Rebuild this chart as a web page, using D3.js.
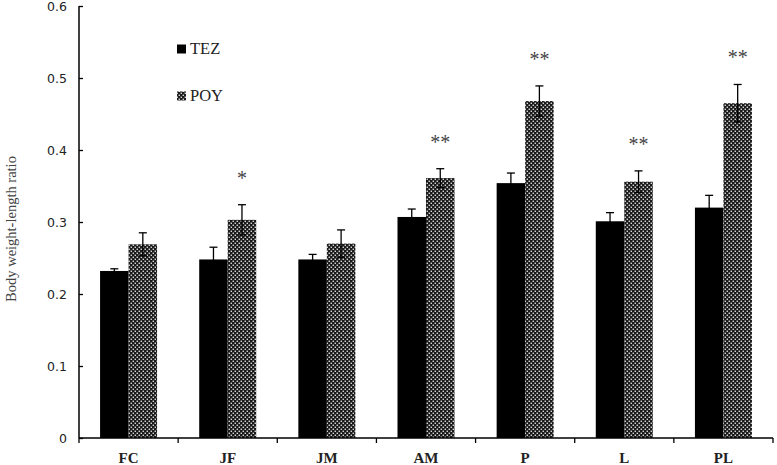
<!DOCTYPE html>
<html><head><meta charset="utf-8">
<script src="https://cdn.jsdelivr.net/npm/d3@7"></script>
<style>body{margin:0;background:#fff}</style>
</head><body>
<svg id="chart" width="777" height="465"></svg>
<script>
const categories = ["FC","JF","JM","AM","P","L","PL"];
const series = ["TEZ","POY"];
const tezValues = [0.232,0.248,0.248,0.307,0.354,0.301,0.320];
const tezErrors = [0.003,0.017,0.007,0.011,0.014,0.012,0.017];
const poyValues = [0.269,0.303,0.270,0.361,0.468,0.356,0.465];
const poyErrors = [0.016,0.021,0.019,0.013,0.021,0.015,0.026];
const significance = ["","*","","**","**","**","**"];
const yTicks = [0,0.1,0.2,0.3,0.4,0.5,0.6];

(function(){
const svg = d3.select("#chart");
const defs = svg.append("defs");
const pat = defs.append("pattern").attr("id","chk").attr("patternUnits","userSpaceOnUse")
  .attr("width",4).attr("height",4);
pat.append("rect").attr("width",4).attr("height",4).attr("fill","#1a1a1a");
pat.append("rect").attr("x",0.6).attr("y",0.6).attr("width",1.3).attr("height",1.3).attr("fill","#fff");
pat.append("rect").attr("x",2.6).attr("y",2.6).attr("width",1.3).attr("height",1.3).attr("fill","#fff");

const mL = 79, mR = 773, mT = 6, mB = 438;
const x = d3.scaleBand().domain(categories).range([mL,mR]).paddingInner(0).paddingOuter(0);
const y = d3.scaleLinear().domain([0,0.6]).range([mB,mT]);
const bw = 28.5;
const fills = {TEZ:"#000", POY:"url(#chk)"};

const data = categories.map((c,i)=>({c, s:[
  {name:"TEZ", v:tezValues[i], e:tezErrors[i]},
  {name:"POY", v:poyValues[i], e:poyErrors[i]}], sig:significance[i]}));

const g = svg.append("g");
data.forEach(d=>{
  const cx = x(d.c) + x.bandwidth()/2;
  d.s.forEach((s,j)=>{
    const x0 = cx - bw + j*bw;
    g.append("rect").attr("x",x0).attr("y",y(s.v)).attr("width",bw).attr("height",y(0)-y(s.v)).attr("fill",fills[s.name]);
    const ex = x0 + bw/2;
    g.append("line").attr("x1",ex).attr("x2",ex).attr("y1",y(s.v-s.e)).attr("y2",y(s.v+s.e)).attr("stroke","#000").attr("stroke-width",1.3);
    g.append("line").attr("x1",ex-4).attr("x2",ex+4).attr("y1",y(s.v+s.e)).attr("y2",y(s.v+s.e)).attr("stroke","#000").attr("stroke-width",1.3);
    g.append("line").attr("x1",ex-4).attr("x2",ex+4).attr("y1",y(s.v-s.e)).attr("y2",y(s.v-s.e)).attr("stroke","#000").attr("stroke-width",1.3);
    if(j===1 && d.sig){
      g.append("text").attr("x",ex).attr("y",y(s.v+s.e)-20).attr("text-anchor","middle")
        .attr("font-family","Liberation Serif").attr("font-size",20).attr("fill","#444").text(d.sig);
    }
  });
});

const ya = svg.append("g").attr("transform",`translate(${mL},0)`)
  .call(d3.axisLeft(y).tickValues(yTicks).tickSize(-4).tickPadding(12).tickFormat(d=>d===0?"0":d3.format(".1f")(d)));
ya.select(".domain").attr("d",`M0,${mT}V${mB}`).attr("stroke","#000").attr("stroke-width",1.5);
ya.selectAll(".tick line").attr("stroke","#000").attr("stroke-width",1.3);
ya.selectAll(".tick text").attr("font-family","DejaVu Sans").attr("font-size",12.5).attr("fill","#222");

const xa = svg.append("g").attr("transform",`translate(0,${mB})`)
  .call(d3.axisBottom(x).tickSize(0).tickPadding(14));
xa.select(".domain").attr("d",`M${mL},0H${mR}`).attr("stroke","#000").attr("stroke-width",1.5);
xa.selectAll(".tick text").attr("font-family","Liberation Serif").attr("font-weight","bold").attr("font-size",15).attr("fill","#222");
const bounds = d3.range(categories.length+1).map(i=> i<categories.length ? x(categories[i]) : mR);
xa.selectAll(".bt").data(bounds).enter().append("line").attr("x1",d=>d).attr("x2",d=>d).attr("y1",0).attr("y2",5)
  .attr("stroke","#000").attr("stroke-width",1.3);

svg.append("text").attr("transform","translate(16,229) rotate(-90)").attr("text-anchor","middle")
  .attr("font-family","Liberation Serif").attr("font-size",14.5).attr("fill","#444").text("Body weight-length  ratio");

const lg = svg.append("g");
series.forEach((s,i)=>{
  const ly = 54 + i*47;
  lg.append("rect").attr("x",177).attr("y",ly-9.5).attr("width",9).attr("height",9).attr("fill",fills[s]);
  lg.append("text").attr("x",190).attr("y",ly).attr("font-family","Liberation Serif").attr("font-size",16.5).attr("fill","#222").text(s);
});
})();
</script>
</body></html>
